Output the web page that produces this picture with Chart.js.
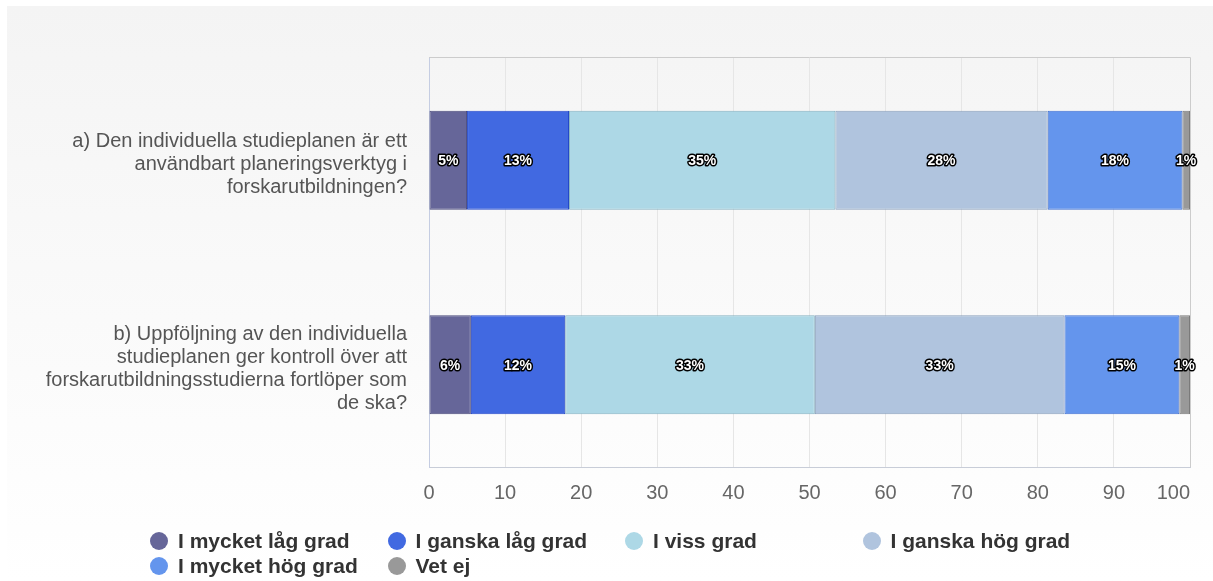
<!DOCTYPE html>
<html>
<head>
<meta charset="utf-8">
<script src="https://cdn.jsdelivr.net/npm/chart.js@4"></script>
<style>
  body { margin: 0; background: #fff; font-family: "Liberation Sans", Arial, sans-serif; }
  #wrap { position: relative; width: 1213px; height: 581px; overflow: hidden; }
  #bg { position: absolute; left: 7px; top: 6px; right: 0; bottom: 0;
        background: linear-gradient(#f4f4f4, #ffffff); }
  #c { position: absolute; left: 0; top: 0; }
  #legend { position: absolute; left: 150px; top: 528px; width: 1000px; }
  .item { position: absolute; height: 25px; white-space: nowrap;
          font-weight: bold; font-size: 21px; color: #333; line-height: 25px; }
  .dot { display: inline-block; width: 18px; height: 18px; border-radius: 50%;
         vertical-align: -2px; margin-right: 10px; }
</style>
</head>
<body>
<div id="wrap">
  <div id="bg"></div>
  <canvas id="c" width="1213" height="581"></canvas>
  <div id="legend"></div>
</div>
<script>
const kategorier = [
  ['a) Den individuella studieplanen är ett', 'användbart planeringsverktyg i', 'forskarutbildningen?'],
  ['b) Uppföljning av den individuella', 'studieplanen ger kontroll över att', 'forskarutbildningsstudierna fortlöper som', 'de ska?']
];
const serier = ['I mycket låg grad', 'I ganska låg grad', 'I viss grad', 'I ganska hög grad', 'I mycket hög grad', 'Vet ej'];
const mycketLag = [5.0, 5.5];
const ganskaLag = [13.4, 12.4];
const vissGrad = [35.0, 32.8];
const ganskaHog = [27.9, 32.8];
const mycketHog = [17.7, 15.1];
const vetEj = [1.0, 1.4];
const xTicks = [0, 10, 20, 30, 40, 50, 60, 70, 80, 90, 100];

const farger = ['#666699', '#4169e1', '#add8e6', '#b0c4de', '#6495ed', '#999999'];
const kanter = ['#4a4a7a', '#2448c8', '#86b2c2', '#8ba0bc', '#3f6fd0', '#7a7a7a'];
const varden = [mycketLag, ganskaLag, vissGrad, ganskaHog, mycketHog, vetEj];

// procentetiketter i varje segment, vit text med svart kant
const etiketter = {
  id: 'etiketter',
  afterDatasetsDraw(chart) {
    const ctx = chart.ctx;
    ctx.save();
    ctx.font = 'bold 14px "Liberation Sans", Arial, sans-serif';
    ctx.textAlign = 'center';
    ctx.textBaseline = 'middle';
    ctx.lineJoin = 'round';
    chart.data.datasets.forEach((ds, i) => {
      chart.getDatasetMeta(i).data.forEach((bar, j) => {
        const txt = Math.round(ds.data[j]) + '%';
        const x = (bar.x + bar.base) / 2;
        ctx.lineWidth = 3;
        ctx.strokeStyle = '#000';
        ctx.strokeText(txt, x, bar.y + 1);
        ctx.fillStyle = '#fff';
        ctx.fillText(txt, x, bar.y + 1);
      });
    });
    ctx.restore();
  }
};

// ram runt plotytan och x-axelns siffror
const ram = {
  id: 'ram',
  beforeDatasetsDraw(chart) {
    const a = chart.chartArea, ctx = chart.ctx;
    ctx.save();
    ctx.strokeStyle = '#cccccc';
    ctx.lineWidth = 1;
    ctx.beginPath();
    ctx.moveTo(a.left, a.top - 0.5);
    ctx.lineTo(a.right + 0.5, a.top - 0.5);
    ctx.lineTo(a.right + 0.5, a.bottom);
    ctx.stroke();
    ctx.restore();
  },
  afterDraw(chart) {
    const sx = chart.scales.x, ctx = chart.ctx;
    ctx.save();
    ctx.font = '20px "Liberation Sans", Arial, sans-serif';
    ctx.fillStyle = '#666';
    ctx.textBaseline = 'middle';
    xTicks.forEach((v, i) => {
      const px = sx.getPixelForValue(v);
      ctx.textAlign = i === xTicks.length - 1 ? 'right' : 'center';
      ctx.fillText(String(v), px, 493);
    });
    ctx.restore();
  }
};

new Chart(document.getElementById('c'), {
  type: 'bar',
  data: {
    labels: kategorier,
    datasets: serier.map((namn, i) => ({
      label: namn,
      data: varden[i],
      backgroundColor: farger[i],
      borderColor: kanter[i],
      borderWidth: 1,
      borderSkipped: false,
      categoryPercentage: 0.5,
      barPercentage: 0.968
    }))
  },
  options: {
    indexAxis: 'y',
    responsive: false,
    animation: false,
    layout: { padding: { top: 58, right: 23, bottom: 74, left: 0 } },
    plugins: { legend: { display: false }, tooltip: { enabled: false } },
    scales: {
      x: {
        stacked: true,
        min: 0,
        max: 100,
        ticks: { stepSize: 10, display: false },
        grid: { color: '#e6e6e6', drawTicks: false },
        border: { color: '#c8cdd8' },
        afterFit(s) { s.height = 40; }
      },
      y: {
        stacked: true,
        grid: { display: false },
        border: { color: '#c5cde2' },
        ticks: {
          color: '#555',
          padding: 14,
          labelOffset: 4,
          font: { size: 20, family: '"Liberation Sans", Arial, sans-serif', lineHeight: 1.15 }
        },
        afterFit(s) { s.width = 429; s.paddingTop = 0; s.paddingBottom = 0; }
      }
    }
  },
  plugins: [etiketter, ram]
});

// förklaring i två rader
const leg = document.getElementById('legend');
serier.forEach((namn, i) => {
  const el = document.createElement('div');
  el.className = 'item';
  el.style.left = (i % 4) * 237.5 + 'px';
  el.style.top = Math.floor(i / 4) * 25 + 'px';
  el.innerHTML = '<span class="dot" style="background:' + farger[i] + '"></span>' + namn;
  leg.appendChild(el);
});
</script>
</body>
</html>
